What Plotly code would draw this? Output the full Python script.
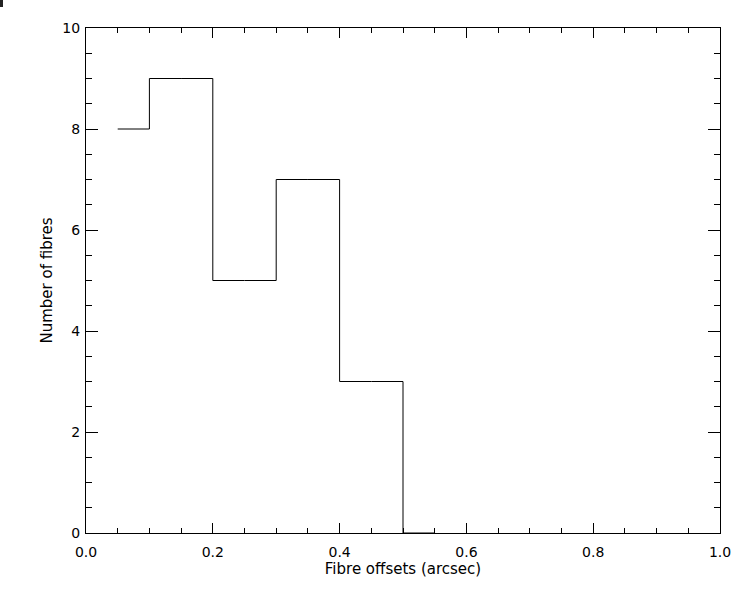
import plotly.graph_objects as go

# Histogram data (bin centres and counts)
bin_centres = [0.05, 0.15, 0.25, 0.35, 0.45, 0.55]
counts = [8, 9, 5, 7, 3, 0]

x_title = "Fibre offsets (arcsec)"
y_title = "Number of fibres"

W, H = 747, 590
L, R, T, B = 86, 27, 28, 57

fig = go.Figure()
fig.add_trace(go.Scatter(
    x=bin_centres, y=counts, mode="lines",
    line=dict(shape="hvh", color="black", width=1),
    showlegend=False, hoverinfo="skip",
))

tick_font = dict(family="DejaVu Sans", size=14, color="black")
title_font = dict(family="DejaVu Sans", size=15, color="black")

fig.update_layout(
    width=W, height=H,
    margin=dict(l=L, r=R, t=T, b=B, autoexpand=False),
    paper_bgcolor="white", plot_bgcolor="white",
    font=tick_font,
    xaxis=dict(
        range=[0, 1], tickvals=[0, 0.2, 0.4, 0.6, 0.8, 1.0],
        ticktext=["0.0", "0.2", "0.4", "0.6", "0.8", "1.0"],
        ticks="inside", ticklen=10, tickwidth=1, tickcolor="black",
        minor=dict(dtick=0.05, ticks="inside", ticklen=5, tickwidth=1, tickcolor="black", showgrid=False),
        showline=True, linecolor="black", linewidth=1, mirror="ticks",
        showgrid=False, zeroline=False, automargin=False,
        tickfont=tick_font,
        title=dict(text=x_title, standoff=4, font=title_font),
        ticklabelstandoff=6,
    ),
    yaxis=dict(
        range=[0, 10], tickvals=[0, 2, 4, 6, 8, 10],
        ticks="inside", ticklen=12, tickwidth=1, tickcolor="black",
        minor=dict(dtick=0.5, ticks="inside", ticklen=6, tickwidth=1, tickcolor="black", showgrid=False),
        showline=True, linecolor="black", linewidth=1, mirror="ticks",
        showgrid=False, zeroline=False, automargin=False,
        tickfont=tick_font,
        title=dict(text=y_title, standoff=6, font=title_font),
        ticklabelstandoff=2,
    ),
)

# small dark mark at top-left corner of the image
pw = W - L - R
ph = H - T - B
def px(x):
    return (x - L) / pw
def py(y):
    return 1 - (y - T) / ph
fig.add_shape(type="rect", xref="paper", yref="paper",
              x0=px(0), x1=px(3), y0=py(7), y1=py(0),
              fillcolor="#222", line=dict(width=0), layer="above")

fig.write_html(
    "out.html",
    config={"displayModeBar": False},
    post_script="document.body.style.margin='0';document.body.style.overflow='hidden';",
)
